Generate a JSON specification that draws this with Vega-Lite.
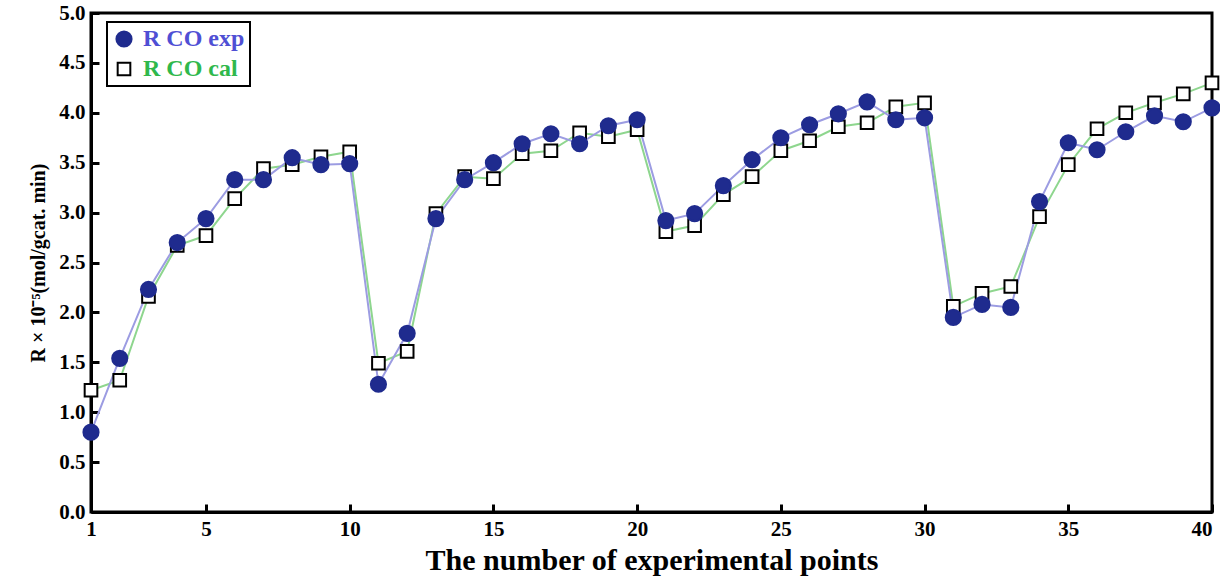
{
  "$schema": "https://vega.github.io/schema/vega-lite/v6.json",
  "autosize": "none",
  "width": 1121,
  "height": 499,
  "padding": {"left": 91, "top": 13, "right": 8, "bottom": 71},
  "background": "white",
  "config": {
    "view": {"stroke": "black", "strokeWidth": 3},
    "font": "Liberation Serif",
    "legend": {
      "orient": "none",
      "legendX": 16,
      "legendY": 9,
      "title": null,
      "strokeColor": "black",
      "strokeWidth": 2,
      "fillColor": "white",
      "padding": 5,
      "rowPadding": 6,
      "labelFont": "Liberation Serif",
      "labelFontSize": 24,
      "labelFontWeight": "bold",
      "labelOffset": 7,
      "symbolStrokeWidth": 2
    }
  },
  "data": {
    "values": [
      {"n": 1, "R": 1.22, "series": "R CO cal"},
      {"n": 2, "R": 1.32, "series": "R CO cal"},
      {"n": 3, "R": 2.16, "series": "R CO cal"},
      {"n": 4, "R": 2.67, "series": "R CO cal"},
      {"n": 5, "R": 2.77, "series": "R CO cal"},
      {"n": 6, "R": 3.14, "series": "R CO cal"},
      {"n": 7, "R": 3.44, "series": "R CO cal"},
      {"n": 8, "R": 3.48, "series": "R CO cal"},
      {"n": 9, "R": 3.56, "series": "R CO cal"},
      {"n": 10, "R": 3.61, "series": "R CO cal"},
      {"n": 11, "R": 1.49, "series": "R CO cal"},
      {"n": 12, "R": 1.61, "series": "R CO cal"},
      {"n": 13, "R": 2.99, "series": "R CO cal"},
      {"n": 14, "R": 3.36, "series": "R CO cal"},
      {"n": 15, "R": 3.34, "series": "R CO cal"},
      {"n": 16, "R": 3.59, "series": "R CO cal"},
      {"n": 17, "R": 3.62, "series": "R CO cal"},
      {"n": 18, "R": 3.80, "series": "R CO cal"},
      {"n": 19, "R": 3.76, "series": "R CO cal"},
      {"n": 20, "R": 3.83, "series": "R CO cal"},
      {"n": 21, "R": 2.81, "series": "R CO cal"},
      {"n": 22, "R": 2.87, "series": "R CO cal"},
      {"n": 23, "R": 3.18, "series": "R CO cal"},
      {"n": 24, "R": 3.36, "series": "R CO cal"},
      {"n": 25, "R": 3.62, "series": "R CO cal"},
      {"n": 26, "R": 3.72, "series": "R CO cal"},
      {"n": 27, "R": 3.86, "series": "R CO cal"},
      {"n": 28, "R": 3.90, "series": "R CO cal"},
      {"n": 29, "R": 4.06, "series": "R CO cal"},
      {"n": 30, "R": 4.10, "series": "R CO cal"},
      {"n": 31, "R": 2.06, "series": "R CO cal"},
      {"n": 32, "R": 2.19, "series": "R CO cal"},
      {"n": 33, "R": 2.26, "series": "R CO cal"},
      {"n": 34, "R": 2.96, "series": "R CO cal"},
      {"n": 35, "R": 3.48, "series": "R CO cal"},
      {"n": 36, "R": 3.84, "series": "R CO cal"},
      {"n": 37, "R": 4.00, "series": "R CO cal"},
      {"n": 38, "R": 4.10, "series": "R CO cal"},
      {"n": 39, "R": 4.19, "series": "R CO cal"},
      {"n": 40, "R": 4.30, "series": "R CO cal"},
      {"n": 1, "R": 0.80, "series": "R CO exp"},
      {"n": 2, "R": 1.54, "series": "R CO exp"},
      {"n": 3, "R": 2.23, "series": "R CO exp"},
      {"n": 4, "R": 2.70, "series": "R CO exp"},
      {"n": 5, "R": 2.94, "series": "R CO exp"},
      {"n": 6, "R": 3.33, "series": "R CO exp"},
      {"n": 7, "R": 3.33, "series": "R CO exp"},
      {"n": 8, "R": 3.55, "series": "R CO exp"},
      {"n": 9, "R": 3.48, "series": "R CO exp"},
      {"n": 10, "R": 3.49, "series": "R CO exp"},
      {"n": 11, "R": 1.28, "series": "R CO exp"},
      {"n": 12, "R": 1.79, "series": "R CO exp"},
      {"n": 13, "R": 2.94, "series": "R CO exp"},
      {"n": 14, "R": 3.33, "series": "R CO exp"},
      {"n": 15, "R": 3.50, "series": "R CO exp"},
      {"n": 16, "R": 3.69, "series": "R CO exp"},
      {"n": 17, "R": 3.79, "series": "R CO exp"},
      {"n": 18, "R": 3.69, "series": "R CO exp"},
      {"n": 19, "R": 3.87, "series": "R CO exp"},
      {"n": 20, "R": 3.93, "series": "R CO exp"},
      {"n": 21, "R": 2.92, "series": "R CO exp"},
      {"n": 22, "R": 2.99, "series": "R CO exp"},
      {"n": 23, "R": 3.27, "series": "R CO exp"},
      {"n": 24, "R": 3.53, "series": "R CO exp"},
      {"n": 25, "R": 3.75, "series": "R CO exp"},
      {"n": 26, "R": 3.88, "series": "R CO exp"},
      {"n": 27, "R": 3.99, "series": "R CO exp"},
      {"n": 28, "R": 4.11, "series": "R CO exp"},
      {"n": 29, "R": 3.93, "series": "R CO exp"},
      {"n": 30, "R": 3.95, "series": "R CO exp"},
      {"n": 31, "R": 1.95, "series": "R CO exp"},
      {"n": 32, "R": 2.08, "series": "R CO exp"},
      {"n": 33, "R": 2.05, "series": "R CO exp"},
      {"n": 34, "R": 3.11, "series": "R CO exp"},
      {"n": 35, "R": 3.70, "series": "R CO exp"},
      {"n": 36, "R": 3.63, "series": "R CO exp"},
      {"n": 37, "R": 3.81, "series": "R CO exp"},
      {"n": 38, "R": 3.97, "series": "R CO exp"},
      {"n": 39, "R": 3.91, "series": "R CO exp"},
      {"n": 40, "R": 4.05, "series": "R CO exp"}
    ]
  },
  "encoding": {
    "x": {
      "field": "n",
      "type": "quantitative",
      "scale": {"domain": [1, 40], "nice": false, "zero": false},
      "axis": {
        "title": "The number of experimental points",
        "values": [1, 5, 10, 15, 20, 25, 30, 35, 40],
        "grid": false,
        "domainColor": "black",
        "domainWidth": 3,
        "tickColor": "black",
        "tickWidth": 3,
        "tickSize": -8,
        "labelPadding": 14,
        "labelFont": "Liberation Serif",
        "labelFontSize": 21,
        "labelFontWeight": "bold",
        "labelColor": "black",
        "labelFlush": false,
        "labelAlign": {"expr": "datum.value == 40 ? 'right' : 'center'"},
        "titleFont": "Liberation Serif",
        "titleFontSize": 30,
        "titleFontWeight": "bold",
        "titleColor": "black",
        "titlePadding": 6
      }
    },
    "y": {
      "field": "R",
      "type": "quantitative",
      "scale": {"domain": [0, 5], "nice": false},
      "axis": {
        "title": "R × 10⁻⁵(mol/gcat. min)",
        "values": [0, 0.5, 1, 1.5, 2, 2.5, 3, 3.5, 4, 4.5, 5],
        "format": ".1f",
        "grid": false,
        "domainColor": "black",
        "domainWidth": 3,
        "tickColor": "black",
        "tickWidth": 3,
        "tickSize": -8,
        "labelPadding": 14,
        "labelFont": "Liberation Serif",
        "labelFontSize": 21,
        "labelFontWeight": "bold",
        "labelColor": "black",
        "labelFlush": false,
        "titleFont": "Liberation Serif",
        "titleFontSize": 20,
        "titleFontWeight": "bold",
        "titleColor": "black",
        "titlePadding": 10
      }
    }
  },
  "layer": [
    {
      "mark": {"type": "line", "strokeWidth": 2, "clip": false},
      "encoding": {
        "color": {
          "field": "series",
          "type": "nominal",
          "scale": {"domain": ["R CO cal", "R CO exp"], "range": ["#8ed68e", "#9c9ce2"]},
          "legend": null
        }
      }
    },
    {
      "mark": {"type": "point", "strokeWidth": 2, "opacity": 1, "clip": false},
      "encoding": {
        "shape": {
          "field": "series",
          "type": "nominal",
          "scale": {"domain": ["R CO exp", "R CO cal"], "range": ["circle", "square"]},
          "legend": {"title": null, "labelColor": {"expr": "datum.value === 'R CO exp' ? '#4f4fd4' : '#2fb84c'"}}
        },
        "fill": {
          "field": "series",
          "type": "nominal",
          "scale": {"domain": ["R CO exp", "R CO cal"], "range": ["#1f2b8e", "white"]},
          "legend": {"title": null, "labelColor": {"expr": "datum.value === 'R CO exp' ? '#4f4fd4' : '#2fb84c'"}}
        },
        "stroke": {
          "field": "series",
          "type": "nominal",
          "scale": {"domain": ["R CO exp", "R CO cal"], "range": ["#1f2b8e", "black"]},
          "legend": {"title": null, "labelColor": {"expr": "datum.value === 'R CO exp' ? '#4f4fd4' : '#2fb84c'"}}
        },
        "size": {
          "field": "series",
          "type": "nominal",
          "scale": {"domain": ["R CO exp", "R CO cal"], "range": [230, 160]},
          "legend": {"title": null, "labelColor": {"expr": "datum.value === 'R CO exp' ? '#4f4fd4' : '#2fb84c'"}}
        }
      }
    }
  ]
}
